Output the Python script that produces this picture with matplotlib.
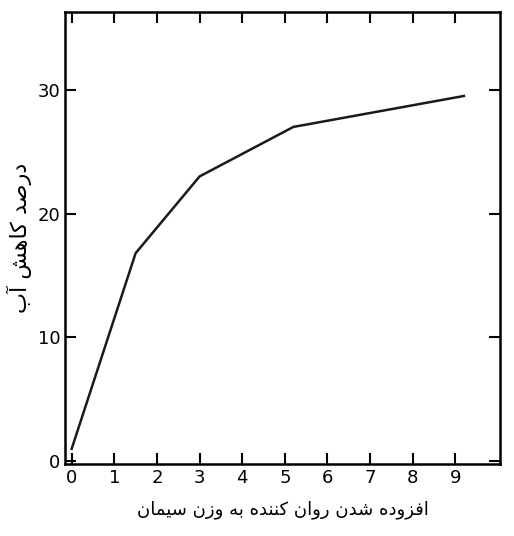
import matplotlib
matplotlib.use("Agg")
import matplotlib.pyplot as plt

# data
dose = [0, 1.5, 3.0, 5.2, 9.2]
water_reduction = [1.0, 16.8, 23.0, 27.0, 29.5]
xticks = list(range(10))
yticks = [0, 10, 20, 30]

xlabel_fa = "افزوده شدن روان کننده به وزن سیمان"
ylabel_fa = "درصد کاهش آب"

# minimal arabic shaping: isolated, final, initial, medial
FORMS = {
    "ا": ("\uFE8D", "\uFE8E", None, None),
    "آ": ("\uFE81", "\uFE82", None, None),
    "د": ("\uFEA9", "\uFEAA", None, None),
    "ر": ("\uFEAD", "\uFEAE", None, None),
    "ز": ("\uFEAF", "\uFEB0", None, None),
    "و": ("\uFEED", "\uFEEE", None, None),
    "ب": ("\uFE8F", "\uFE90", "\uFE91", "\uFE92"),
    "س": ("\uFEB1", "\uFEB2", "\uFEB3", "\uFEB4"),
    "ش": ("\uFEB5", "\uFEB6", "\uFEB7", "\uFEB8"),
    "ص": ("\uFEB9", "\uFEBA", "\uFEBB", "\uFEBC"),
    "ف": ("\uFED1", "\uFED2", "\uFED3", "\uFED4"),
    "ک": ("\uFB8E", "\uFB8F", "\uFB90", "\uFB91"),
    "م": ("\uFEE1", "\uFEE2", "\uFEE3", "\uFEE4"),
    "ن": ("\uFEE5", "\uFEE6", "\uFEE7", "\uFEE8"),
    "ه": ("\uFEE9", "\uFEEA", "\uFEEB", "\uFEEC"),
    "ی": ("\uFBFC", "\uFBFD", "\uFBFE", "\uFBFF"),
}


def shape(s):
    out = []
    for i, c in enumerate(s):
        if c not in FORMS:
            out.append(c)
            continue
        prev = s[i - 1] if i > 0 else ""
        nxt = s[i + 1] if i + 1 < len(s) else ""
        jp = prev in FORMS and FORMS[prev][2] is not None
        jn = FORMS[c][2] is not None and nxt in FORMS
        iso, fin, ini, med = FORMS[c]
        if jp and jn:
            out.append(med)
        elif jp:
            out.append(fin)
        elif jn:
            out.append(ini)
        else:
            out.append(iso)
    return "".join(reversed(out))


plt.rcParams["font.family"] = ["DejaVu Sans", "Noto Sans"]

fig, ax = plt.subplots(figsize=(5.14, 5.36), dpi=100)
fig.subplots_adjust(left=0.127, right=0.973, bottom=0.135, top=0.978)

ax.plot(dose, water_reduction, color="#1a1a1a", lw=1.8)
ax.set_xlim(-0.15, 10.05)
ax.set_ylim(-0.2, 36.3)
ax.set_xticks(xticks)
ax.set_yticks(yticks)
ax.tick_params(direction="in", top=True, right=True, labelsize=13, length=8, width=1.5)
ax.tick_params(axis="y", labelright=False)
for sp in ax.spines.values():
    sp.set_linewidth(1.8)

ax.set_xlabel(shape(xlabel_fa), fontsize=13, labelpad=10)
ax.set_ylabel(shape(ylabel_fa), fontsize=16)

fig.savefig("out.png", dpi=100)
